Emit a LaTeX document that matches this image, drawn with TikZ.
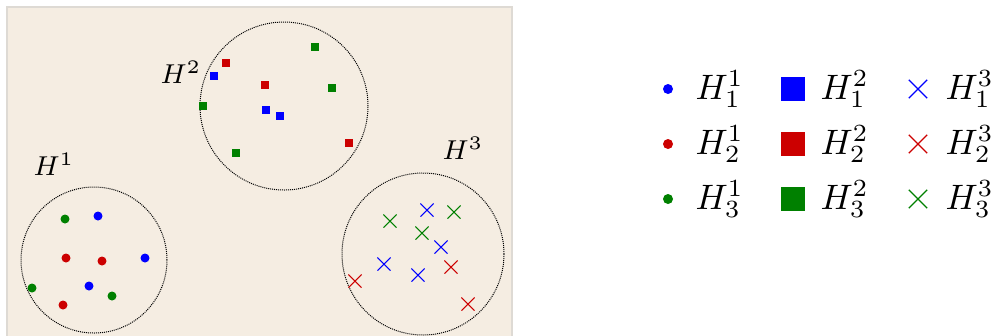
\documentclass[tikz,border=0pt]{standalone}
\usepackage{fix-cm}
\usetikzlibrary{shapes.misc}
\definecolor{paper}{RGB}{245,237,226}
\definecolor{frame}{RGB}{222,218,212}
\definecolor{hblue}{RGB}{0,0,255}
\definecolor{hred}{RGB}{204,0,0}
\definecolor{hgreen}{RGB}{0,128,0}
\begin{document}
\begin{tikzpicture}[x=0.3pt, y=-0.3pt,
  dot/.style={circle,fill=#1,inner sep=0pt,minimum size=2.7pt},
  sq/.style={rectangle,fill=#1,inner sep=0pt,minimum size=2.4pt},
  crs/.style={cross out,draw=#1,inner sep=0pt,minimum size=3.6pt,line width=0.32pt},
  hull/.style={circle,draw,inner sep=0pt,line width=0.3pt,dash pattern=on 0.3pt off 0.3pt},
  hlab/.style={font=\fontsize{8.2}{10}\selectfont,inner sep=0pt,anchor=base west},
  lab/.style={font=\fontsize{10.6}{12}\selectfont,inner sep=0pt,anchor=base west}]
\useasboundingbox (0,0) rectangle (992,335);
\draw[frame,fill=paper,line width=0.4pt] (7,7) rectangle (512,345);
\node[hull,minimum size=43.8pt] (hull1) at (94,260) {};
\node[hull,minimum size=50.4pt] (hull2) at (284,106) {};
\node[hull,minimum size=48.6pt] (hull3) at (423,254) {};
\node[hlab] (name1) at (33,175) {$H^1$};
\node[hlab] (name2) at (160,83) {$H^2$};
\node[hlab] (name3) at (442,159) {$H^3$};
\foreach \c/\x/\y [count=\i] in {hgreen/65/219, hblue/98/216, hred/66/258, hred/102/261,
  hblue/145/258, hgreen/32/288, hblue/89/286, hgreen/112/296, hred/63/305}
  \node[dot=\c] (p1-\i) at (\x,\y) {};
\foreach \c/\x/\y [count=\i] in {hgreen/315/47, hred/226/63, hblue/214/76, hred/265/85,
  hgreen/332/88, hgreen/203/106, hblue/266/110, hblue/280/116, hred/349/143, hgreen/236/153}
  \node[sq=\c] (p2-\i) at (\x,\y) {};
\foreach \c/\x/\y [count=\i] in {hblue/427/210, hgreen/454/212, hgreen/390/221, hgreen/422/233,
  hblue/441/247, hblue/384/264, hred/451/267, hblue/418/275, hred/355/281, hred/468/304}
  \node[crs=\c] (p3-\i) at (\x,\y) {};
\foreach \c/\r/\y in {hblue/1/89, hred/2/144, hgreen/3/199} {
  \node[dot=\c,minimum size=3pt] (key1-\r) at (668,\y) {};
  \node[lab] (txt1-\r) at (695,\y+10) {$H^1_\r$};
  \node[sq=\c,minimum size=7.4pt] (key2-\r) at (793,\y) {};
  \node[lab] (txt2-\r) at (820,\y+10) {$H^2_\r$};
  \node[crs=\c,minimum size=5.1pt,line width=0.4pt] (key3-\r) at (918,\y) {};
  \node[lab] (txt3-\r) at (945,\y+10) {$H^3_\r$};
}
\end{tikzpicture}
\end{document}
